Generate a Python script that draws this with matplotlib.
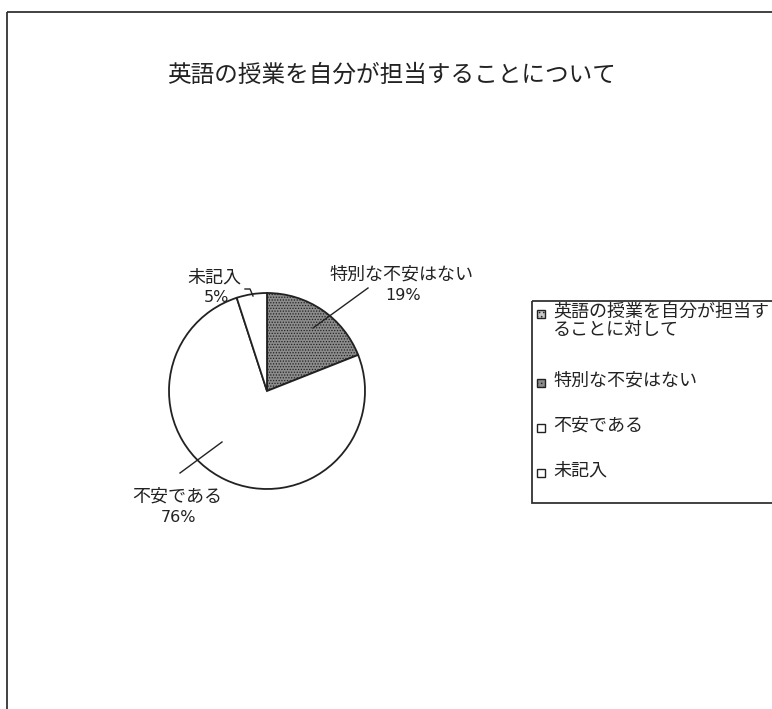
"""Pie chart: 英語の授業を自分が担当することについて."""

import matplotlib
matplotlib.use("Agg")
from matplotlib import pyplot as plt
from matplotlib.patches import Rectangle

plt.rcParams["font.family"] = ["Noto Sans CJK JP", "DejaVu Sans"]
plt.rcParams["hatch.linewidth"] = 0.6

title = "英語の授業を自分が担当することについて"
header = "英語の授業を自分が担当す\nることに対して"
labels = ["特別な不安はない", "不安である", "未記入"]
values = [19, 76, 5]

W, H = 772, 709
fig = plt.figure(figsize=(W / 100, H / 100), dpi=100)
ax = fig.add_axes([0, 0, 1, 1])

ink = "#222222"

# pie, in a y-down pixel space (so angles run the other way)
wedges, _ = ax.pie(
    values,
    center=(267, 391),
    radius=98,
    startangle=-90,
    counterclock=True,
    colors=["#8c8c8c", "white", "white"],
    wedgeprops=dict(edgecolor=ink, linewidth=1.3),
    frame=True,
)
wedges[0].set_hatch("......")
ax.set_xlim(0, W)
ax.set_ylim(H, 0)
ax.set_aspect("equal")
ax.axis("off")

# outer chart frame (runs off the right and bottom edges)
ax.add_patch(Rectangle((7, 12), 820, 760, fill=False, lw=1.3, ec="#333333"))

ax.text(392, 75, title, ha="center", va="center", fontsize=17, color=ink)

# data labels
pos = [(401, 275), (177, 497), (214, 278)]
for lab, v, (x, y) in zip(labels, values, pos):
    ax.text(x, y, lab, ha="center", va="center", fontsize=13, color=ink)
    ax.text(x + 2, y + 20, f"{v}%", ha="center", va="center", fontsize=11.5,
            color=ink, family=["DejaVu Sans"])

# leader lines
ax.plot([313, 368], [328, 288], color=ink, lw=1)
ax.plot([180, 222], [473, 442], color=ink, lw=1)
ax.plot([245, 250, 253], [289, 289, 296], color=ink, lw=1)

# legend box
ax.add_patch(Rectangle((532, 301), 300, 202, fill=False, lw=1.3, ec="#333333"))
entries = [header] + labels
ys = [314, 383, 428, 473]
faces = ["#c8c8c8", "#8c8c8c", "white", "white"]
hatches = ["....", "....", None, None]
for text, y, fc, h in zip(entries, ys, faces, hatches):
    ax.add_patch(Rectangle((537, y - 4), 8, 8, facecolor=fc, edgecolor=ink,
                           lw=1, hatch=h))
    ax.text(553, y - 11, text, ha="left", va="top", fontsize=13,
            color=ink, linespacing=1.0)

fig.savefig("out.png", dpi=100)
